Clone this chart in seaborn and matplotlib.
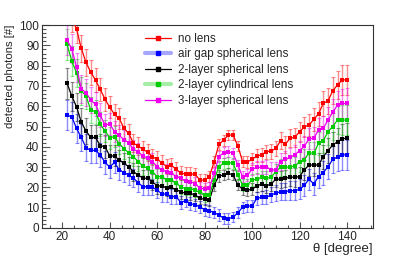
import numpy as np
import pandas as pd
import matplotlib
matplotlib.use('Agg')
import matplotlib.pyplot as plt
import seaborn as sns
from matplotlib.lines import Line2D
from matplotlib.ticker import MultipleLocator

# angle of each point [degree]
theta = [22, 24, 26, 28, 30, 32, 34, 36, 38, 40,
         42, 44, 46, 48, 50, 52, 54, 56, 58, 60,
         62, 64, 66, 68, 70, 72, 74, 76, 78, 80,
         82, 84, 86, 88, 90, 92, 94, 96, 98, 100,
         102, 104, 106, 108, 110, 112, 114, 116, 118, 120,
         122, 124, 126, 128, 130, 132, 134, 136, 138, 140]

no_lens = [112, 104, 98, 88.5, 81.6, 76.7, 72.9, 68.3, 63.5, 59.5,
           56, 54, 49.1, 46.6, 41.7, 40.4, 38.8, 37.3, 35.1, 33.8,
           32.2, 30.2, 30.9, 28.9, 26.9, 26.6, 26.6, 26.4, 23.6, 23.6,
           25.3, 32.7, 41.2, 43.3, 45.8, 45.8, 40.4, 32.7, 32.5, 33.8,
           35.5, 36, 37.6, 37.9, 39.2, 43, 41.2, 44.2, 44.7, 47.4,
           49.8, 50.7, 53.5, 56.2, 61.4, 62.7, 67.6, 70.5, 73, 73]

air_gap = [55.7, 54.7, 49.1, 44.6, 39.6, 38.2, 38.2, 36, 32.3, 30,
           32.3, 28.6, 27.3, 26.1, 24.5, 22.3, 20.3, 20.3, 20, 18.7,
           16.7, 16.7, 15.4, 15.4, 12.5, 13.5, 12, 11.3, 10.5, 8.9,
           8.5, 7.5, 6.4, 4.8, 4.6, 5.3, 7.5, 10.2, 10.8, 10.8,
           14.6, 15.1, 15.1, 16.3, 17.1, 17.9, 17.9, 18.4, 18.4, 19,
           21, 24, 21.7, 25.3, 27.2, 30.2, 33.8, 35, 36, 36]

two_sph = [71.3, 65, 59.7, 52.1, 47.8, 44.6, 44.6, 40.6, 40, 35.5,
           35.5, 33.5, 31.8, 30.2, 27.7, 26.1, 24.5, 24.5, 22.8, 20.7,
           20.7, 19.6, 20, 18.7, 17.9, 17, 17, 16.3, 14.6, 14.1,
           13.8, 21.2, 25.6, 26.1, 26.9, 26.1, 21.2, 19, 18.7, 19,
           20.7, 21.7, 20.7, 21.7, 24, 24, 24.5, 25, 25, 25.3,
           28.6, 31, 31, 31, 35.1, 38.1, 40.9, 42.5, 44, 44.2]

two_cyl = [90.5, 82.3, 76.5, 67.5, 65.2, 58.1, 57.3, 51.2, 47.8, 44.5,
           45, 41.5, 39.1, 37.1, 35.1, 32.7, 30.5, 29.4, 27.7, 25.3,
           25.3, 23.6, 23.4, 22, 20.3, 19.4, 19.4, 18.5, 17.5, 16,
           16.3, 23.6, 30.2, 31.9, 32.2, 31.9, 26.1, 21.2, 21.2, 23.6,
           24, 25, 24.5, 25, 27.7, 29.9, 29.9, 30.2, 30.4, 32.7,
           33.6, 37, 36.8, 41.7, 43, 47.4, 50, 53.2, 53.2, 53.2]

three_sph = [92.6, 88.3, 79.2, 68.6, 66.7, 63, 61, 55.7, 50.7, 51.3,
             47.4, 45.6, 43.5, 42, 38.8, 37.6, 35.5, 34.3, 32.7, 30.2,
             28.6, 27.7, 27, 25.3, 24.5, 23, 22.8, 21.9, 19.6, 19.3,
             19.6, 26.9, 35.1, 37.1, 37.6, 36.8, 31, 25.3, 26.1, 28.9,
             29.9, 29.9, 30.2, 28.6, 28.6, 32.7, 33.8, 34.8, 36, 38.1,
             40.2, 44, 44.2, 48.3, 49.1, 53.2, 57, 60.6, 61.4, 61.4]

# error bar half-length (about the same for all series)
err = [7.5, 7.2, 7, 6.8, 6.5, 6.3, 6, 5.8, 5.6, 5.4,
       5.2, 5, 4.9, 4.7, 4.5, 4.4, 4.2, 4.1, 4, 3.9,
       3.8, 3.7, 3.6, 3.5, 3.4, 3.3, 3.2, 3.1, 3, 3,
       2.9, 2.8, 2.8, 2.7, 2.6, 2.6, 2.7, 2.8, 2.9, 3,
       3.2, 3.3, 3.5, 3.7, 3.9, 4.1, 4.3, 4.5, 4.7, 4.9,
       5.1, 5.3, 5.5, 5.7, 6, 6.3, 6.6, 7, 7.3, 7.5]

labels = ['no lens', 'air gap spherical lens', '2-layer spherical lens',
          '2-layer cylindrical lens', '3-layer spherical lens']
colors = ['#ff0000', '#0000ff', '#000000', '#00cc00', '#ee00ee']
series = [no_lens, air_gap, two_sph, two_cyl, three_sph]

# long-form table for seaborn
df = pd.concat([pd.DataFrame({'theta': theta, 'photons': s, 'lens': lab})
                for s, lab in zip(series, labels)], ignore_index=True)

sns.set_style('ticks')
plt.rcParams['font.family'] = ['Liberation Sans', 'DejaVu Sans']

fig, ax = plt.subplots(figsize=(4.15, 2.59), dpi=100)
fig.subplots_adjust(left=0.101, right=0.899, bottom=0.12, top=0.903)

for s, lab, c in zip(series, labels, colors):
    ax.errorbar(theta, s, yerr=err, fmt='none', ecolor=c, alpha=0.45,
                elinewidth=1.0, capsize=1.5, capthick=0.8, zorder=2)

sns.lineplot(data=df, x='theta', y='photons', hue='lens', hue_order=labels,
             palette=colors, marker='s', markersize=3, markeredgewidth=0,
             linewidth=0.9, legend=False, ax=ax, zorder=3)

ax.set_xlim(11.4, 151)
ax.set_ylim(0, 100)
ax.xaxis.set_major_locator(MultipleLocator(20))
ax.xaxis.set_minor_locator(MultipleLocator(5))
ax.yaxis.set_major_locator(MultipleLocator(10))
ax.yaxis.set_minor_locator(MultipleLocator(2))
ax.tick_params(axis='both', which='both', direction='in', labelsize=8.5,
               color='#555555', width=0.8)
ax.tick_params(axis='y', which='major', length=6, pad=2)
ax.tick_params(axis='y', which='minor', length=3)
ax.tick_params(axis='x', which='major', length=4, pad=2)
ax.tick_params(axis='x', which='minor', length=2)
for sp in ax.spines.values():
    sp.set_linewidth(0.8)
    sp.set_color('#333333')

ax.set_xlabel('θ [degree]', loc='right', fontsize=9.5, labelpad=0)
ax.set_ylabel('detected photons [#]', loc='top', fontsize=8.2, labelpad=3)

handles = []
for i, (lab, c) in enumerate(zip(labels, colors)):
    if i in (1, 3):
        h = Line2D([], [], color=c, alpha=0.35, lw=3)
        m = Line2D([], [], color=c, marker='s', markersize=3, lw=0)
        handles.append((h, m))
    else:
        handles.append(Line2D([], [], color=c, marker='s', markersize=3, lw=0.9))
ax.legend(handles, labels, loc='upper left', bbox_to_anchor=(0.296, 0.985),
          frameon=False, fontsize=8.4, handlelength=2.3, handletextpad=0.55,
          labelspacing=0.3, borderaxespad=0)

fig.savefig('out.png', dpi=100)
